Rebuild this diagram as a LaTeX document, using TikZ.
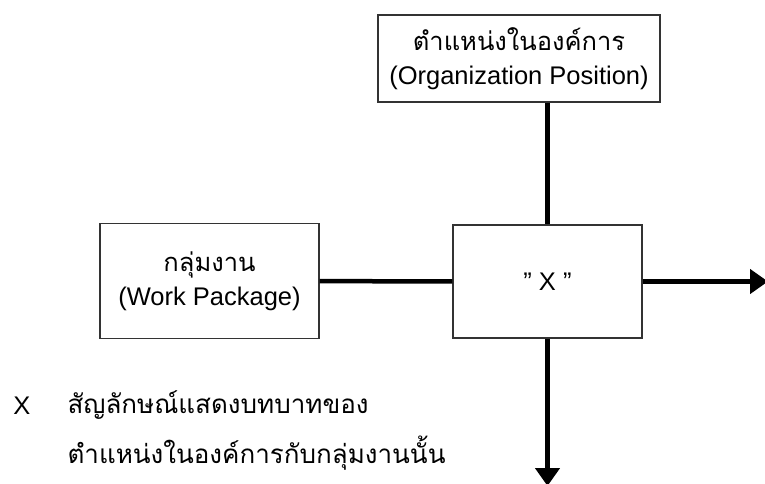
\documentclass[tikz,border=0pt]{standalone}
\usepackage{fontspec}
\setmainfont{Liberation Sans}
\newfontfamily\thaifont[Script=Thai]{Loma}
\usetikzlibrary{arrows.meta}

\begin{document}
\begin{tikzpicture}[x=1pt, y=-1pt, font=\fontsize{25.5}{34}\selectfont,
    box/.style={draw=black!80, line width=1.2pt, rectangle, align=center, inner sep=0pt},
    link/.style={line width=4.5pt},
    flow/.style={line width=4.5pt, -{Triangle[length=18pt,width=24pt]}}]
  \useasboundingbox (0,0) rectangle (765,483);

  \node[box, minimum width=282pt, minimum height=87pt] (position) at (519,58.5) {{\thaifont ตำแหน่งในองค์การ}\\(Organization Position)};
  \node[box, minimum width=219pt, minimum height=115pt] (work) at (209.5,281) {{\thaifont กลุ่มงาน}\\(Work Package)};
  \node[box, minimum width=189pt, minimum height=113pt] (role) at (547.5,281.5) {"~X~"};

  \coordinate (outright) at (768,281.5);
  \coordinate (outdown) at (547.5,486);

  \draw[link] (role.north |- position.south) -- (role.north);
  \draw[link] (work) -- (role);
  \draw[flow] (role) -- (outright);
  \draw[flow] (role) -- (outdown);

  \node (sym) at (22,406) {X};
  \node[anchor=west, align=left, font=\thaifont\fontsize{26}{50}\selectfont] (note) at (64,430) {สัญลักษณ์แสดงบทบาทของ\\ตำแหน่งในองค์การกับกลุ่มงานนั้น};
\end{tikzpicture}
\end{document}
